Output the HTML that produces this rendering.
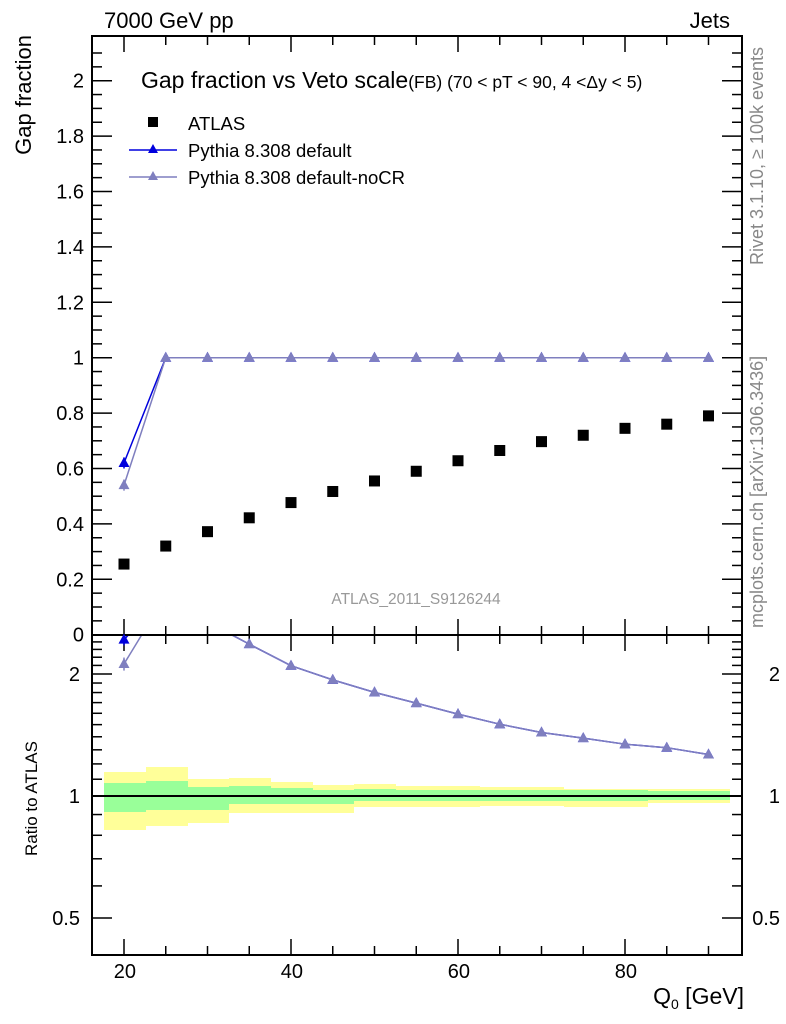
<!DOCTYPE html>
<html><head><meta charset="utf-8"><style>
html,body{margin:0;padding:0;background:#fff}
svg{display:block;font-family:"Liberation Sans",Arial,sans-serif}
</style></head><body>
<svg width="786" height="1024" xmlns="http://www.w3.org/2000/svg">
<defs><clipPath id="rc"><rect x="92" y="636" width="650" height="318"/></clipPath></defs>
<g id="bands">
<rect x="104" y="772" width="42" height="58" fill="#ffff99"/>
<rect x="146" y="767" width="42" height="59" fill="#ffff99"/>
<rect x="188" y="779" width="41" height="44" fill="#ffff99"/>
<rect x="229" y="778" width="42" height="35" fill="#ffff99"/>
<rect x="271" y="782" width="42" height="31" fill="#ffff99"/>
<rect x="313" y="785" width="41" height="28" fill="#ffff99"/>
<rect x="354" y="784" width="42" height="23" fill="#ffff99"/>
<rect x="396" y="786" width="84" height="21" fill="#ffff99"/>
<rect x="480" y="787" width="84" height="19" fill="#ffff99"/>
<rect x="564" y="789" width="84" height="18" fill="#ffff99"/>
<rect x="648" y="789" width="82" height="14" fill="#ffff99"/>
<rect x="104" y="783" width="42" height="29" fill="#99ff99"/>
<rect x="146" y="781" width="42" height="29" fill="#99ff99"/>
<rect x="188" y="787" width="41" height="23" fill="#99ff99"/>
<rect x="229" y="786" width="42" height="18" fill="#99ff99"/>
<rect x="271" y="788" width="42" height="16" fill="#99ff99"/>
<rect x="313" y="790" width="41" height="14" fill="#99ff99"/>
<rect x="354" y="789" width="42" height="12" fill="#99ff99"/>
<rect x="396" y="790" width="252" height="11" fill="#99ff99"/>
<rect x="648" y="791" width="82" height="9" fill="#99ff99"/>
</g>
<line x1="92" y1="796" x2="742" y2="796" stroke="#000" stroke-width="2"/>
<g fill="none" stroke="#000" stroke-width="2">
<rect x="92" y="36" width="650" height="599"/>
<rect x="92" y="635" width="650" height="320"/>
</g>
<g id="ticks" stroke="#000" stroke-width="1.5"></g>
<g font-size="20" fill="#000" text-anchor="end" id="ylab"></g>
<text x="104" y="28" font-size="22">7000 GeV pp</text>
<text x="730" y="28" font-size="22" text-anchor="end">Jets</text>
<text x="141" y="88" font-size="23">Gap fraction vs Veto scale<tspan font-size="17.5">(FB) (70 &lt; pT &lt;  90, 4 &lt;Δy &lt; 5)</tspan></text>
<rect x="148" y="117" width="10" height="10" fill="#000"/>
<text x="188" y="130" font-size="18.5">ATLAS</text>
<line x1="129" y1="150" x2="177" y2="150" stroke="#0000dd" stroke-width="1.5"/>
<polygon points="153,144 158,153 148,153" fill="#0000dd"/>
<text x="188" y="157" font-size="18.5">Pythia 8.308 default</text>
<line x1="129" y1="177" x2="177" y2="177" stroke="#7f7fbf" stroke-width="1.5"/>
<polygon points="153,171 158,180 148,180" fill="#7f7fbf"/>
<text x="188" y="184" font-size="18.5">Pythia 8.308 default-noCR</text>
<text x="416" y="604" font-size="15.5" fill="#999" text-anchor="middle">ATLAS_2011_S9126244</text>
<text transform="translate(31,35) rotate(-90)" font-size="22" text-anchor="end">Gap fraction</text>
<text transform="translate(37,856) rotate(-90)" font-size="17">Ratio to ATLAS</text>
<text x="744" y="1004" font-size="23" text-anchor="end">Q<tspan font-size="14" dy="5">0</tspan><tspan dy="-5"> [GeV]</tspan></text>
<text transform="translate(763,265) rotate(-90)" font-size="18" fill="#888">Rivet 3.1.10, ≥ 100k events</text>
<text transform="translate(763,628) rotate(-90)" font-size="18" fill="#888">mcplots.cern.ch [arXiv:1306.3436]</text>
<g id="data"></g>
<script>
(function(){
var NS="http://www.w3.org/2000/svg";
function el(p,t,a,txt){var e=document.createElementNS(NS,t);for(var k in a)e.setAttribute(k,a[k]);if(txt!==undefined)e.textContent=txt;document.getElementById(p).appendChild(e);return e;}
function X(v){return 124+8.35*(v-20);}
function Y(v){return 634.7-277*v;}
function R(r){return 796-122*Math.log2(r);}
for(var v=20;v<=90;v+=5){var maj=v%20==0,L=maj?16:9;
 el("ticks","line",{x1:X(v),x2:X(v),y1:36,y2:36+L});
 el("ticks","line",{x1:X(v),x2:X(v),y1:635,y2:635-L});
 el("ticks","line",{x1:X(v),x2:X(v),y1:635,y2:635+L});
 el("ticks","line",{x1:X(v),x2:X(v),y1:955,y2:955-L});
 if(maj)el("ylab","text",{x:X(v)+12,y:978},v);}
for(var i=0;i<=42;i++){var v=i*0.05,y=Y(v);if(y<36)break;var maj=i%4==0,L=maj?20:10;
 el("ticks","line",{x1:92,x2:92+L,y1:y,y2:y});el("ticks","line",{x1:742,x2:742-L,y1:y,y2:y});
 if(maj)el("ylab","text",{x:84,y:y+7},i==0?"0":(+v.toFixed(1)).toString());}
var rt=[0.5,0.6,0.7,0.8,0.9,1,1.1,1.2,1.3,1.4,1.5,1.6,1.7,1.8,1.9,2,2.1,2.2,2.3,2.4];
rt.forEach(function(r){var y=R(r);if(y<636||y>954)return;var maj=(r==0.5||r==1||r==2),L=maj?20:10;
 el("ticks","line",{x1:92,x2:92+L,y1:y,y2:y});el("ticks","line",{x1:742,x2:742-L,y1:y,y2:y});
 if(maj){el("ylab","text",{x:80,y:y+7},r);el("ylab","text",{x:780,y:y+7},r);}});
var xs=[20,25,30,35,40,45,50,55,60,65,70,75,80,85,90];
var at=[0.255,0.32,0.372,0.422,0.477,0.517,0.555,0.59,0.628,0.665,0.697,0.72,0.745,0.76,0.79];
xs.forEach(function(x,i){el("data","rect",{x:X(x)-5.5,y:Y(at[i])-5.5,width:11,height:11,fill:"#000"});});
function tri(q,col){el("data","polygon",{points:(q[0])+","+(q[1]-6)+" "+(q[0]+5.5)+","+(q[1]+4)+" "+(q[0]-5.5)+","+(q[1]+4),fill:col});}
function series(first,col,err){
 var p=xs.map(function(x,i){return [X(x),Y(i==0?first:1)];});
 el("data","polyline",{points:p.map(function(q){return q.join(",")}).join(" "),fill:"none",stroke:col,"stroke-width":1.5});
 el("data","line",{x1:X(20),x2:X(20),y1:Y(first+err),y2:Y(first-err),stroke:col,"stroke-width":1.5});
 p.forEach(function(q){tri(q,col);});
 var rp=xs.map(function(x,i){return [X(x),R((i==0?first:1)/at[i])];});
 var d="M"+rp.map(function(q){return q.join(",")}).join(" L");
 el("data","path",{d:d,fill:"none",stroke:col,"stroke-width":1.5,"clip-path":"url(#rc)"});
 el("data","line",{x1:X(20),x2:X(20),y1:Math.max(637,R((first+err)/at[0])),y2:R((first-err)/at[0]),stroke:col,"stroke-width":1.5});
 rp.forEach(function(q){if(q[1]<637)return;tri(q,col);});
}
series(0.62,"#0000dd",0.02);
series(0.54,"#7f7fbf",0.02);
})();
</script>
</svg>
</body></html>
